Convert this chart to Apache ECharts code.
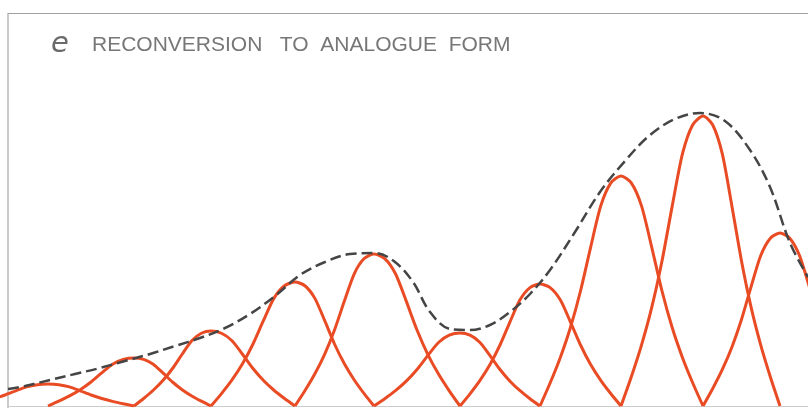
<!DOCTYPE html>
<html>
<head>
<meta charset="utf-8">
<script src="https://cdn.jsdelivr.net/npm/echarts@6/dist/echarts.min.js"></script>
<style>html,body{margin:0;padding:0;background:#fff}#c{width:808px;height:408px}</style>
</head>
<body>
<div id="c"></div>
<script>
// sample instants (horizontal position) and sample amplitudes of the reconstruction pulses
var sampleTimes = [48, 134, 211, 295, 374, 460, 540, 621, 703, 780];
var sampleValues = [22, 48, 75, 124, 152, 73, 122, 230, 290, 173];
// zero crossings outside the first/last sample
var firstZero = -38;
var lastZero = 858;
// profile of one reconstruction pulse
// (offset in sample spacings, fraction of the sample amplitude)
var pulseOffsets = [0, 0.125, 0.25, 0.375, 0.5, 0.625, 0.75, 0.875, 1];
var pulseShape = [1, 0.97, 0.87, 0.69, 0.5, 0.34, 0.21, 0.1, 0];
// reconstructed analogue envelope (dashed)
var envX = [8, 25, 50, 75, 100, 125, 150, 175, 200, 225, 250, 275, 300, 325, 350, 375, 395, 413, 430, 450, 470, 490, 510, 530, 550, 575, 600, 625, 650, 675, 700, 725, 750, 770, 790, 808];
var envY = [17, 20, 26, 32, 38, 45, 52, 60, 68, 78, 92, 110, 131, 144, 152, 153, 144, 124, 94, 77, 76, 81, 94, 112, 136, 174, 214, 245, 271, 287, 293, 285, 256, 219, 163, 129];

var titleLetter = 'e';
var titleText = 'RECONVERSION   TO  ANALOGUE  FORM';

var chart = echarts.init(document.getElementById('c'));
var series = [];
for (var i = 0; i < sampleTimes.length; i++) {
  var t0 = sampleTimes[i];
  var leftSpan = t0 - (i === 0 ? firstZero : sampleTimes[i - 1]);
  var rightSpan = (i === sampleTimes.length - 1 ? lastZero : sampleTimes[i + 1]) - t0;
  var pts = [];
  for (var k = pulseOffsets.length - 1; k > 0; k--) {
    pts.push([t0 - pulseOffsets[k] * leftSpan, sampleValues[i] * pulseShape[k]]);
  }
  for (var k2 = 0; k2 < pulseOffsets.length; k2++) {
    pts.push([t0 + pulseOffsets[k2] * rightSpan, sampleValues[i] * pulseShape[k2]]);
  }
  series.push({
    type: 'line',
    data: pts,
    smooth: 0.25,
    symbol: 'none',
    silent: true,
    lineStyle: { color: '#e94c24', width: 3 },
    z: 2
  });
}
var env = [];
for (var j = 0; j < envX.length; j++) env.push([envX[j], envY[j]]);
series.push({
  type: 'line',
  data: env,
  smooth: 0.35,
  symbol: 'none',
  silent: true,
  lineStyle: { color: '#454545', width: 2.5, type: [11, 5] },
  z: 5
});

chart.setOption({
  animation: false,
  backgroundColor: '#ffffff',
  grid: { left: 0, right: 0, top: 0, bottom: 2, containLabel: false },
  xAxis: { type: 'value', min: 0, max: 808, show: false },
  yAxis: { type: 'value', min: 0, max: 406, show: false },
  series: series,
  graphic: [
    { type: 'line', shape: { x1: 8, y1: 13.5, x2: 808, y2: 13.5 }, style: { stroke: '#a0a0a0', lineWidth: 1.2 }, z: 1 },
    { type: 'line', shape: { x1: 8, y1: 13, x2: 8, y2: 408 }, style: { stroke: '#a8a8a8', lineWidth: 1.2 }, z: 1 },
    { type: 'line', shape: { x1: 8, y1: 406.5, x2: 808, y2: 406.5 }, style: { stroke: '#cccccc', lineWidth: 1 }, z: 1 },
    { type: 'text', left: 51, top: 30, style: { text: titleLetter, font: 'italic 29px "DejaVu Sans", sans-serif', fill: '#6a6a6a' }, z: 10 },
    { type: 'text', left: 92, top: 35, style: { text: titleText, font: '21px "Liberation Sans", sans-serif', fill: '#777777' }, z: 10 }
  ]
});
</script>
</body>
</html>
